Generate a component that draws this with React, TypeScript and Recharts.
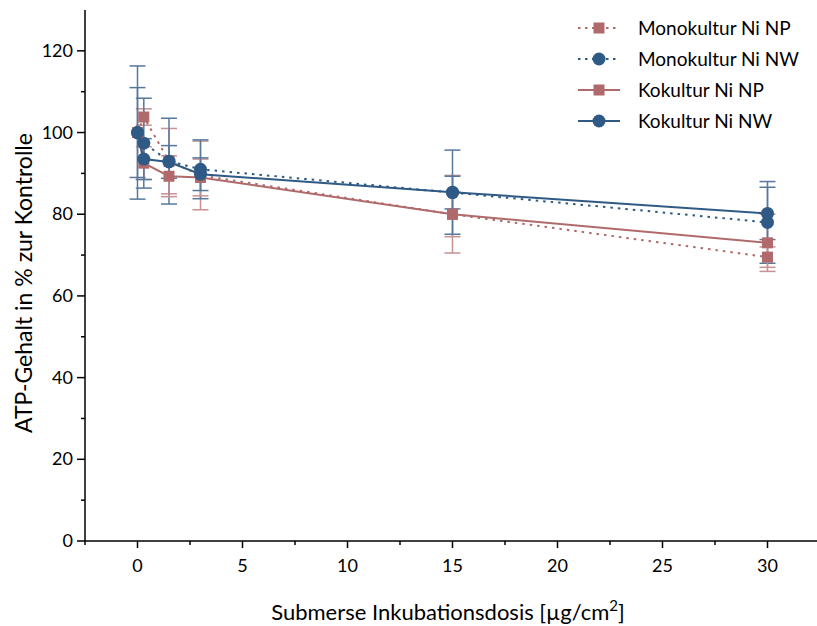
import React from "react";
import { ComposedChart, Line, XAxis, YAxis, ErrorBar } from "recharts";

const doses = [0, 0.3, 1.5, 3, 15, 30];

const monoNP = [100, 103.8, 93, 89.5, 80, 69.5];
const monoNPErr = [0, 2, 8, 8.4, 9.5, 2.5];
const monoNW = [100, 97.4, 93, 91, 85.3, 78];
const monoNWErr = [16.3, 11, 10.5, 7.2, 4, 10];
const kokNP = [100, 92.5, 89.3, 89, 80, 73];
const kokNPErr = [0, 4, 5, 4.5, 5.5, 7];
const kokNW = [100, 93.5, 92.8, 89.8, 85.4, 80.2];
const kokNWErr = [11, 5, 4, 4, 10.3, 6.4];

const xTicks = [-2.5, 0, 2.5, 5, 7.5, 10, 12.5, 15, 17.5, 20, 22.5, 25, 27.5, 30, 32.5];
const yTicks = [0, 10, 20, 30, 40, 50, 60, 70, 80, 90, 100, 110, 120];

const RED = "#b06a6b";
const BLUE = "#2e5a85";
const RED_ERR = "#c99192";
const BLUE_ERR = "#56789d";
const FONT = "Lato, 'Open Sans', sans-serif";

const toRows = (ys: number[], errs: number[]) =>
  doses.map((x, i) => ({ x, y: ys[i], err: errs[i] }));

const series = [
  { name: "Monokultur Ni NP", rows: toRows(monoNP, monoNPErr), color: RED, errColor: RED_ERR, dashed: true, shape: "square" },
  { name: "Monokultur Ni NW", rows: toRows(monoNW, monoNWErr), color: BLUE, errColor: BLUE_ERR, dashed: true, shape: "circle" },
  { name: "Kokultur Ni NP", rows: toRows(kokNP, kokNPErr), color: RED, errColor: RED_ERR, dashed: false, shape: "square" },
  { name: "Kokultur Ni NW", rows: toRows(kokNW, kokNWErr), color: BLUE, errColor: BLUE_ERR, dashed: false, shape: "circle" },
];

const Marker = ({ cx, cy, shape, color }: any) => {
  if (cx == null || cy == null) return null;
  if (shape === "square") {
    return <rect x={cx - 5.5} y={cy - 5.5} width={11} height={11} fill={color} />;
  }
  return <circle cx={cx} cy={cy} r={6.5} fill={color} />;
};

const XTick = ({ x, y, payload }: any) => {
  const major = payload.value % 5 === 0;
  return (
    <g>
      <line x1={x} x2={x} y1={y} y2={y + (major ? 7 : 4)} stroke="#000" strokeWidth={1.5} />
      {major && (
        <text x={x} y={y + 31} textAnchor="middle" fontSize={18} fontFamily={FONT} fill="#000">
          {payload.value}
        </text>
      )}
    </g>
  );
};

const YTick = ({ x, y, payload }: any) => {
  const major = payload.value % 20 === 0;
  return (
    <g>
      <line x1={x} x2={x - (major ? 8 : 4)} y1={y} y2={y} stroke="#000" strokeWidth={1.5} />
      {major && (
        <text x={x - 12} y={y + 6} textAnchor="end" fontSize={18} fontFamily={FONT} fill="#000">
          {payload.value}
        </text>
      )}
    </g>
  );
};

const LegendBox = () => (
  <div style={{ position: "absolute", left: 576, top: 12, fontFamily: FONT, fontSize: 19, color: "#000" }}>
    {series.map((s) => (
      <div key={s.name} style={{ display: "flex", alignItems: "center", height: 31 }}>
        <svg width={62} height={20}>
          <line
            x1={2}
            x2={44}
            y1={10}
            y2={10}
            stroke={s.color}
            strokeWidth={2}
            strokeDasharray={s.dashed ? "2.5 4.5" : undefined}
          />
          <Marker cx={23} cy={10} shape={s.shape} color={s.color} />
        </svg>
        <span>{s.name}</span>
      </div>
    ))}
  </div>
);

export default function App() {
  return (
    <div style={{ position: "absolute", left: 0, top: 0, width: 817, height: 626, overflow: "hidden", background: "#fff" }}>
      <ComposedChart width={820} height={626} margin={{ top: 10, right: 0, bottom: 0, left: 0 }}>
        <XAxis
          dataKey="x"
          type="number"
          domain={[-2.5, 32.5]}
          ticks={xTicks}
          interval={0}
          allowDuplicatedCategory={false}
          height={85}
          tickSize={0}
          tickMargin={0}
          tickLine={false}
          tick={<XTick />}
          axisLine={{ stroke: "#000", strokeWidth: 1.5 }}
        />
        <YAxis
          type="number"
          domain={[0, 130]}
          ticks={yTicks}
          interval={0}
          width={85}
          tickSize={0}
          tickMargin={0}
          tickLine={false}
          tick={<YTick />}
          axisLine={{ stroke: "#000", strokeWidth: 1.5 }}
        />
        {series.map((s) => (
          <Line
            key={s.name}
            data={s.rows}
            dataKey="y"
            name={s.name}
            type="linear"
            stroke={s.color}
            strokeWidth={2}
            strokeDasharray={s.dashed ? "2.5 5" : undefined}
            dot={(p: any) => <Marker key={`${s.name}-${p.index}`} cx={p.cx} cy={p.cy} shape={s.shape} color={s.color} />}
            activeDot={false}
            isAnimationActive={false}
          >
            <ErrorBar dataKey="err" direction="y" width={8} stroke={s.errColor} strokeWidth={1.5} isAnimationActive={false} />
          </Line>
        ))}
        <text
          transform="translate(32, 283) rotate(-90)"
          textAnchor="middle"
          fontSize={23}
          fontFamily={FONT}
          fill="#000"
        >
          ATP-Gehalt in % zur Kontrolle
        </text>
        <text x={448} y={620} textAnchor="middle" fontSize={22} fontFamily={FONT} fill="#000">
          Submerse Inkubationsdosis [µg/cm
          <tspan dy={-9} fontSize={15}>2</tspan>
          <tspan dy={9}>]</tspan>
        </text>
      </ComposedChart>
      <LegendBox />
    </div>
  );
}
